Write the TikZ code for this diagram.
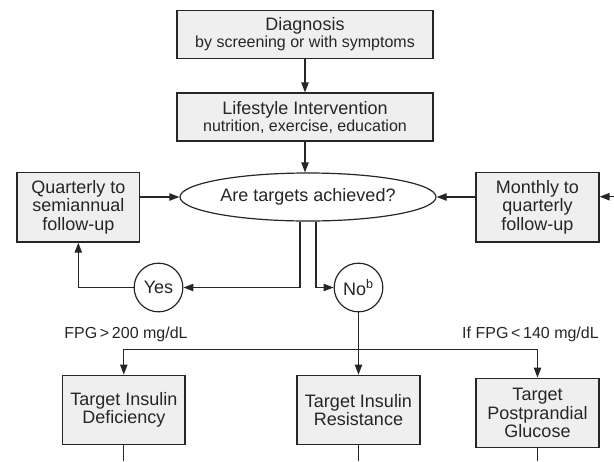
\documentclass[tikz,border=0pt]{standalone}
\usepackage{fontspec}
\setmainfont{Liberation Sans}
\usetikzlibrary{shapes.geometric,arrows.meta}
\definecolor{boxgray}{HTML}{EFEFEF}
\definecolor{inkgray}{HTML}{262626}
\begin{document}
\begin{tikzpicture}[x=0.75pt,y=-0.75pt,
	box/.style={draw=inkgray,line width=1.1pt,fill=boxgray,align=center,inner sep=0pt,
		text=inkgray,font=\fontsize{13.5}{14}\selectfont},
	widebox/.style={box,minimum width=192pt,minimum height=36pt},
	smallbox/.style={box,minimum width=92pt,minimum height=52pt},
	decision/.style={ellipse,draw=inkgray,line width=0.9pt,fill=white,inner sep=0pt,
		minimum width=192pt,minimum height=36pt,text=inkgray,font=\fontsize{13.5}{14}\selectfont},
	answer/.style={circle,draw=inkgray,line width=0.9pt,fill=white,inner sep=0pt,
		minimum size=36.5pt,text=inkgray,font=\fontsize{13.5}{14}\selectfont},
	lbl/.style={inner sep=0pt,text=inkgray,font=\fontsize{12}{12}\selectfont},
	flow/.style={draw=inkgray,line width=0.9pt,-{Triangle[length=7.5pt,width=5.5pt]}},
	wire/.style={draw=inkgray,line width=0.9pt}]
\useasboundingbox (0,0) rectangle (614,461);

% top of the chart
\node[widebox] (diag) at (305,34.3) {Diagnosis\\[-1pt]{\fontsize{12}{12}\selectfont by screening or with symptoms}};
\node[widebox] (life) at (305,117.2) {Lifestyle Intervention\\[-1pt]{\fontsize{12}{12}\selectfont nutrition, exercise, education}};
\node[decision] (goal) at (308,197) {Are targets achieved?};

% follow-up boxes
\node[smallbox] (qfu) at (78.3,207.3) {Quarterly to\\semiannual\\follow-up};
\node[smallbox] (mfu) at (537.5,207.3) {Monthly to\\quarterly\\follow-up};

% answers
\node[answer] (yes) at (158.5,287.5) {Yes};
\node[answer] (no) at (358.5,287.5) {No\textsuperscript{b}};

% treatment targets
\node[smallbox] (defic) at (123.8,410) {Target Insulin\\Deficiency};
\node[smallbox] (resist) at (358.5,410) {Target Insulin\\Resistance};
\node[smallbox] (ppg) at (537.5,413) {Target\\Postprandial\\Glucose};

\node[lbl,anchor=base] (high) at (126,338) {FPG\,>\,200 mg/dL};
\node[lbl,anchor=base east] (low) at (599,338) {If FPG\,<\,140 mg/dL};

\coordinate (split) at (358.5,349.3);
\coordinate (rin) at (614,196.7);
\coordinate (bottom) at (0,461);

\draw[flow] (diag) -- (life);
\draw[flow] (life.south) -- (goal.north -| life.south);
\draw[flow] (qfu.east |- goal.west) -- (goal.west);
\draw[flow] (mfu.west |- goal.east) -- (goal.east);
\draw[flow] (rin) -- (mfu.east |- rin);
\draw[flow] ([xshift=-6pt]goal.south) |- (yes);
\draw[flow] ([xshift=6pt]goal.south) |- (no);
\draw[flow] (yes.west) -| (qfu.south);
\draw[wire] (no) -- (split);
\draw[flow] (split) -- (resist);
\draw[flow] (split) -| (defic.north);
\draw[flow] (split) -| (ppg.north);
\draw[wire] (defic.south) -- (defic.south |- bottom);
\draw[wire] (resist.south) -- (resist.south |- bottom);
\draw[wire] (ppg.south) -- (ppg.south |- bottom);
\end{tikzpicture}
\end{document}
